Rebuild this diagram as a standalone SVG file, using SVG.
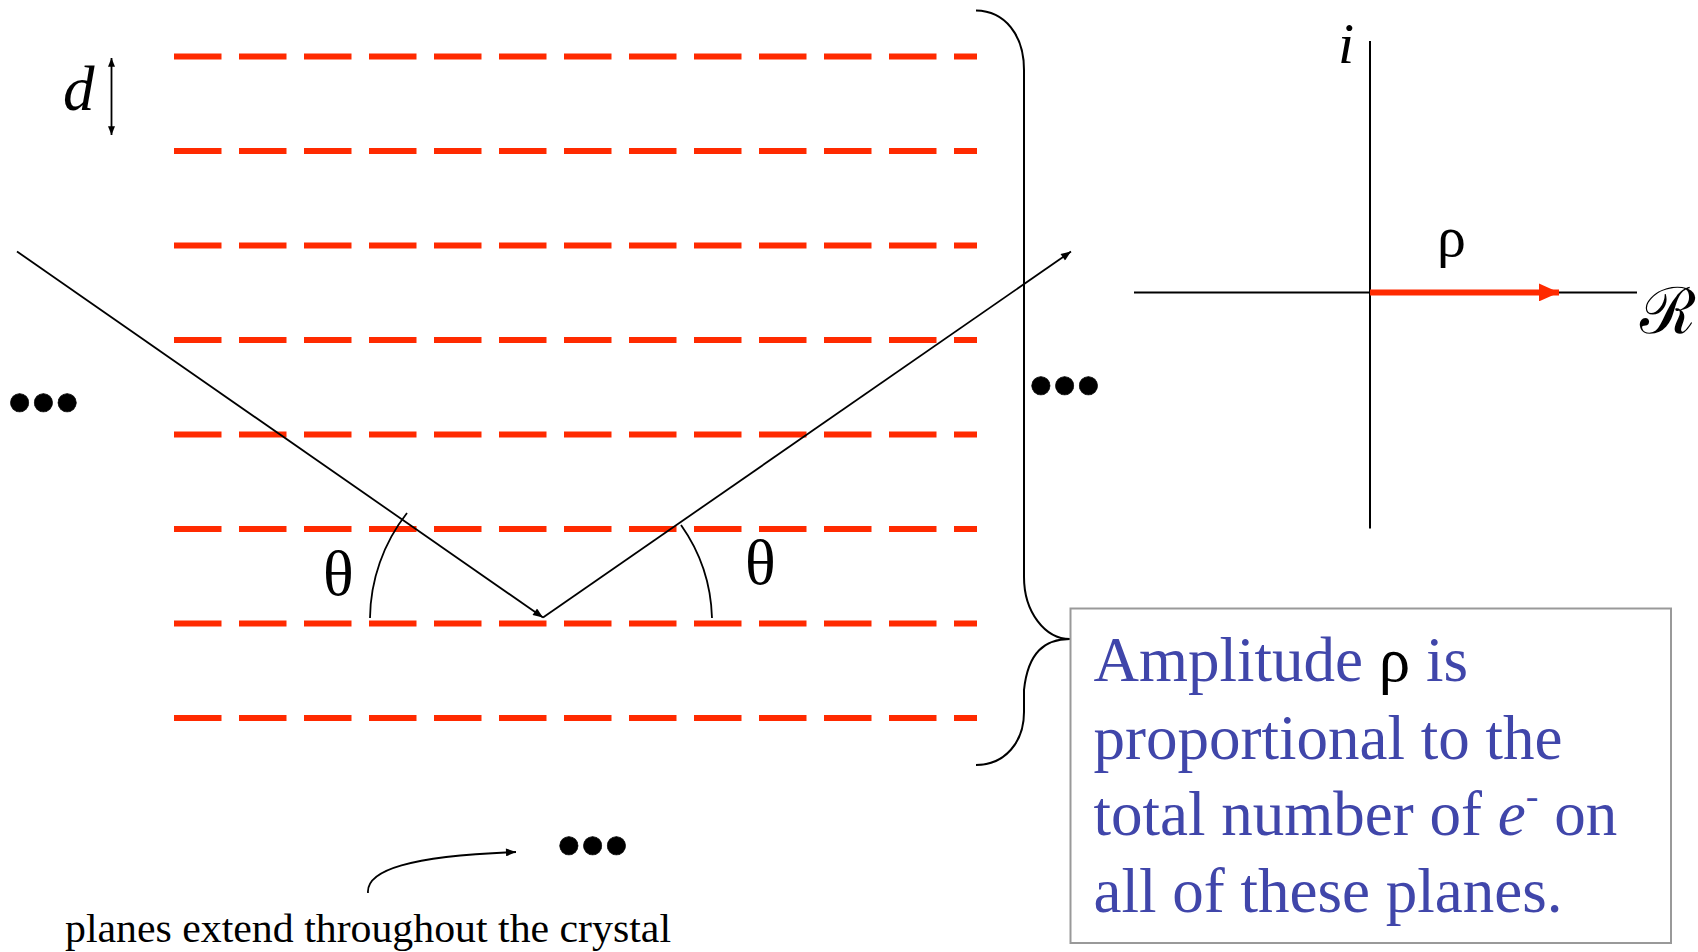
<svg xmlns="http://www.w3.org/2000/svg" width="1698" height="952" viewBox="0 0 1698 952">
<style>
.plane{stroke:#FF2A00;stroke-width:6;stroke-dasharray:47.5 17.5;fill:none}
.ln{stroke:#000;stroke-width:1.8;fill:none}
.ax{stroke:#000;stroke-width:2;fill:none}
.serif{font-family:"Liberation Serif","Times New Roman",serif}
.dots{font-family:"Liberation Serif","Times New Roman",serif;font-size:68px;font-weight:bold;fill:#000;stroke:#000;stroke-width:0.6}
.box{font-family:"Liberation Serif","Times New Roman",serif;font-size:63px;fill:#4046AA}
</style>
<defs>
<marker id="ah" viewBox="0 0 10 8" markerWidth="11" markerHeight="8" refX="10" refY="4" orient="auto-start-reverse" markerUnits="userSpaceOnUse">
<path d="M0,0 L10,4 L0,8 z" fill="#000"/>
</marker>
<marker id="ahs" viewBox="0 0 10 8" markerWidth="9" markerHeight="7" refX="10" refY="4" orient="auto-start-reverse" markerUnits="userSpaceOnUse">
<path d="M0,0 L10,4 L0,8 z" fill="#000"/>
</marker>
<marker id="ahr" viewBox="0 0 20 18" markerWidth="20" markerHeight="18" refX="20" refY="9" orient="auto" markerUnits="userSpaceOnUse">
<path d="M0,0 L20,9 L0,18 z" fill="#FF2A00"/>
</marker>
</defs>

<g id="planes">
<line class="plane" x1="174" y1="56.5" x2="977" y2="56.5"/>
<line class="plane" x1="174" y1="151" x2="977" y2="151"/>
<line class="plane" x1="174" y1="245.5" x2="977" y2="245.5"/>
<line class="plane" x1="174" y1="340" x2="977" y2="340"/>
<line class="plane" x1="174" y1="434.5" x2="977" y2="434.5"/>
<line class="plane" x1="174" y1="529" x2="977" y2="529"/>
<line class="plane" x1="174" y1="623.5" x2="977" y2="623.5"/>
<line class="plane" x1="174" y1="718" x2="977" y2="718"/>
</g>

<g id="spacing">
<line class="ln" x1="111.5" y1="58" x2="111.5" y2="135" stroke-width="1.5" marker-start="url(#ahs)" marker-end="url(#ahs)"/>
<text class="serif" x="63" y="110" font-size="63" font-style="italic">d</text>
</g>

<g id="connectors">
<line class="ln" x1="17" y1="251.5" x2="543" y2="617.5" marker-end="url(#ah)"/>
<line class="ln" x1="543" y1="617.5" x2="1071" y2="251.5" marker-end="url(#ah)"/>
<path class="ln" d="M370,618 A173,173 0 0 1 407,513"/>
<path class="ln" d="M712,618 A169,169 0 0 0 681,525"/>
<path class="ln" d="M368,893 C366,870 410,856 516,852" marker-end="url(#ah)"/>
</g>

<g id="angles">
<text class="serif" x="323" y="595" font-size="64">θ</text>
<text class="serif" x="745" y="584" font-size="64">θ</text>
</g>

<g id="ellipses">
<text class="dots" x="7.7" y="424.5">•••</text>
<text class="dots" x="1029" y="407.5">•••</text>
<text class="dots" x="557" y="867.5">•••</text>
</g>

<g id="caption">
<text class="serif" x="65" y="942" font-size="41" textLength="606" lengthAdjust="spacingAndGlyphs">planes extend throughout the crystal</text>
</g>

<g id="brace">
<path class="ax" d="M976,10.5 C1005,11 1024,35 1024,70 L1024,577 C1024,612 1045,639 1070,639 C1045,639 1028,652 1024,690 L1024,712 C1024,742 1005,765 976,765"/>
</g>

<g id="axes">
<line class="ax" x1="1134" y1="292.4" x2="1637" y2="292.4"/>
<line class="ax" x1="1370" y1="41" x2="1370" y2="528.5"/>
<line x1="1370" y1="292.4" x2="1559" y2="292.4" stroke="#FF2A00" stroke-width="6" marker-end="url(#ahr)"/>
<text class="serif" x="1338" y="63" font-size="58" font-style="italic">i</text>
<text class="serif" x="1437" y="256" font-size="58">ρ</text>
<text x="1640" y="333" font-size="64" font-family="'DejaVu Serif','Noto Sans',serif">ℛ</text>
</g>

<g id="note">
<rect x="1070.5" y="608.5" width="600.5" height="334.5" fill="#fff" stroke="#999" stroke-width="2"/>
<text class="box" x="1093.6" y="681">Amplitude <tspan fill="#000">ρ</tspan> is</text>
<text class="box" x="1093.6" y="759">proportional to the</text>
<text class="box" x="1093.6" y="835">total number of <tspan font-style="italic">e</tspan><tspan dy="-26" font-size="38">-</tspan><tspan dy="26"> on</tspan></text>
<text class="box" x="1093.6" y="912">all of these planes.</text>
</g>
</svg>
